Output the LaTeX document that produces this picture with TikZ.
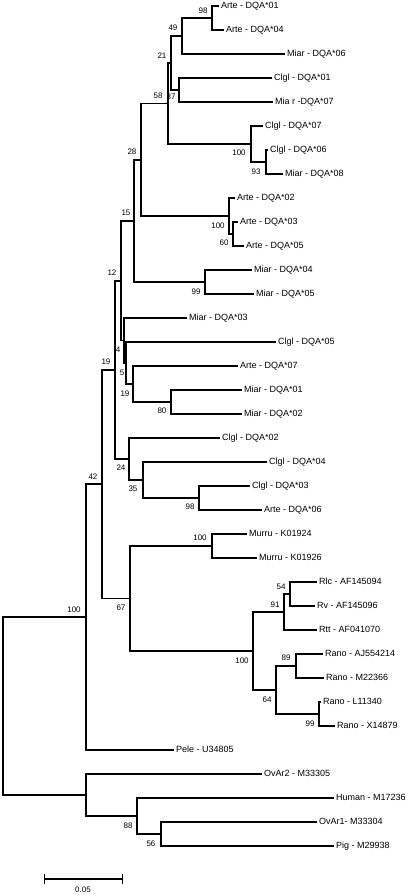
\documentclass[tikz,border=0pt]{standalone}
\usepackage{fontspec}
\setmainfont{Liberation Sans}
\usetikzlibrary{arrows.meta}

\begin{document}
\begin{tikzpicture}[x=1pt, y=-1pt, line width=1.1pt,
	leaf/.style={anchor=west, inner sep=1.5pt, font=\fontsize{9}{10}\selectfont, text height=6.5pt, text depth=1.5pt},
	bs/.style={inner sep=0pt, font=\fontsize{8}{9}\selectfont}]
	\useasboundingbox (0,0) rectangle (406,895);
	% tips
	\node[leaf] (l1) at (219,6) {Arte - DQA*01};
	\node[leaf] (l2) at (224,30) {Arte - DQA*04};
	\node[leaf] (l3) at (285,54) {Miar - DQA*06};
	\node[leaf] (l4) at (272,78) {Clgl - DQA*01};
	\node[leaf] (l5) at (273,102) {Mia r -DQA*07};
	\node[leaf] (l6) at (263,126) {Clgl - DQA*07};
	\node[leaf] (l7) at (268,150) {Clgl - DQA*06};
	\node[leaf] (l8) at (283,174) {Miar - DQA*08};
	\node[leaf] (l9) at (235,198) {Arte - DQA*02};
	\node[leaf] (l10) at (238,222) {Arte - DQA*03};
	\node[leaf] (l11) at (244,246) {Arte - DQA*05};
	\node[leaf] (l12) at (252,270) {Miar - DQA*04};
	\node[leaf] (l13) at (254,294) {Miar - DQA*05};
	\node[leaf] (l14) at (187,318) {Miar - DQA*03};
	\node[leaf] (l15) at (276,342) {Clgl - DQA*05};
	\node[leaf] (l16) at (238,366) {Arte - DQA*07};
	\node[leaf] (l17) at (242,390) {Miar - DQA*01};
	\node[leaf] (l18) at (242,414) {Miar - DQA*02};
	\node[leaf] (l19) at (220,438) {Clgl - DQA*02};
	\node[leaf] (l20) at (267,462) {Clgl - DQA*04};
	\node[leaf] (l21) at (250,486) {Clgl - DQA*03};
	\node[leaf] (l22) at (262,510) {Arte - DQA*06};
	\node[leaf] (l23) at (247,534) {Murru - K01924};
	\node[leaf] (l24) at (257,558) {Murru - K01926};
	\node[leaf] (l25) at (317,582) {Rlc - AF145094};
	\node[leaf] (l26) at (315,606) {Rv - AF145096};
	\node[leaf] (l27) at (317,630) {Rtt - AF041070};
	\node[leaf] (l28) at (323,654) {Rano - AJ554214};
	\node[leaf] (l29) at (324,678) {Rano - M22366};
	\node[leaf] (l30) at (321,702) {Rano - L11340};
	\node[leaf] (l31) at (335,726) {Rano - X14879};
	\node[leaf] (l32) at (174,750) {Pele - U34805};
	\node[leaf] (l33) at (262,774) {OvAr2 - M33305};
	\node[leaf] (l34) at (334,798) {Human - M17236};
	\node[leaf] (l35) at (317,822) {OvAr1- M33304};
	\node[leaf] (l36) at (334,846) {Pig - M29938};
	% inner nodes
	\coordinate (a98) at (212,18);
	\coordinate (a49) at (182,36);
	\coordinate (a37) at (179,90);
	\coordinate (a21) at (171,63);
	\coordinate (a93) at (266,162);
	\coordinate (a100) at (251,144);
	\coordinate (a58) at (168,103.5);
	\coordinate (a60) at (233,234);
	\coordinate (a100b) at (229,216);
	\coordinate (a28) at (141,160);
	\coordinate (a99) at (205,282);
	\coordinate (a15) at (134,221);
	\coordinate (a80) at (171,402);
	\coordinate (a19b) at (133,384);
	\coordinate (a5) at (126,363);
	\coordinate (a4) at (124,340.5);
	\coordinate (a12) at (121,281);
	\coordinate (a98b) at (199,498);
	\coordinate (a35) at (143,480);
	\coordinate (a24) at (129,459);
	\coordinate (a19) at (115,370);
	\coordinate (a100c) at (212,546);
	\coordinate (a54) at (290,594);
	\coordinate (a91) at (284,612);
	\coordinate (a89) at (296,666);
	\coordinate (a99b) at (319,714);
	\coordinate (a64) at (276,690);
	\coordinate (a100d) at (253,651);
	\coordinate (a67) at (130,598.5);
	\coordinate (a42) at (102,484);
	\coordinate (a100e) at (86,617);
	\coordinate (a56) at (161,834);
	\coordinate (a88) at (137,816);
	\coordinate (aout) at (86,795);
	\coordinate (root) at (3,706);
	% branches
	\foreach \p/\c in {a98/l1, a98/l2, a49/a98, a49/l3, a37/l4, a37/l5, a21/a49, a21/a37,
		a93/l7, a93/l8, a100/l6, a100/a93, a58/a21, a58/a100, a60/l10, a60/l11,
		a100b/l9, a100b/a60, a28/a58, a28/a100b, a99/l12, a99/l13, a15/a28, a15/a99,
		a80/l17, a80/l18, a19b/l16, a19b/a80, a5/l15, a5/a19b, a4/l14, a4/a5,
		a12/a15, a12/a4, a98b/l21, a98b/l22, a35/l20, a35/a98b, a24/l19, a24/a35,
		a19/a12, a19/a24, a100c/l23, a100c/l24, a54/l25, a54/l26, a91/a54, a91/l27,
		a89/l28, a89/l29, a99b/l30, a99b/l31, a64/a89, a64/a99b, a100d/a91, a100d/a64,
		a67/a100c, a67/a100d, a42/a19, a42/a67, a100e/a42, a100e/l32,
		a56/l35, a56/l36, a88/l34, a88/a56, aout/l33, aout/a88, root/a100e, root/aout}
		\draw (\p) |- (\c);
	% bootstrap values
	\node[bs] (b1) at (203,11) {98};
	\node[bs] (b2) at (173,28) {49};
	\node[bs] (b3) at (162,56) {21};
	\node[bs] (b4) at (158,96) {58};
	\node[bs] (b5) at (171,97) {37};
	\node[bs] (b6) at (239,153) {100};
	\node[bs] (b7) at (256,172) {93};
	\node[bs] (b8) at (132,152) {28};
	\node[bs] (b9) at (218,226) {100};
	\node[bs] (b10) at (224,243) {60};
	\node[bs] (b11) at (126,213) {15};
	\node[bs] (b12) at (196,292) {99};
	\node[bs] (b13) at (112,273) {12};
	\node[bs] (b14) at (118,350) {4};
	\node[bs] (b15) at (122,373) {5};
	\node[bs] (b16) at (125,394) {19};
	\node[bs] (b17) at (162,411) {80};
	\node[bs] (b18) at (106,362) {19};
	\node[bs] (b19) at (121,468) {24};
	\node[bs] (b20) at (133,489) {35};
	\node[bs] (b21) at (190,507) {98};
	\node[bs] (b22) at (93,477) {42};
	\node[bs] (b23) at (200,538) {100};
	\node[bs] (b24) at (121,608) {67};
	\node[bs] (b25) at (281,587) {54};
	\node[bs] (b26) at (275,605) {91};
	\node[bs] (b27) at (242,661) {100};
	\node[bs] (b28) at (286,658) {89};
	\node[bs] (b29) at (267,700) {64};
	\node[bs] (b30) at (310,724) {99};
	\node[bs] (b31) at (74,610) {100};
	\node[bs] (b32) at (128,826) {88};
	\node[bs] (b33) at (151,844) {56};
	% scale bar
	\coordinate (sb1) at (44,879);
	\coordinate (sb2) at (123,879);
	\draw[{Bar[width=10pt]}-{Bar[width=10pt]}] (sb1) -- (sb2);
	\node[bs] (sbl) at (83,890) {0.05};
\end{tikzpicture}
\end{document}
